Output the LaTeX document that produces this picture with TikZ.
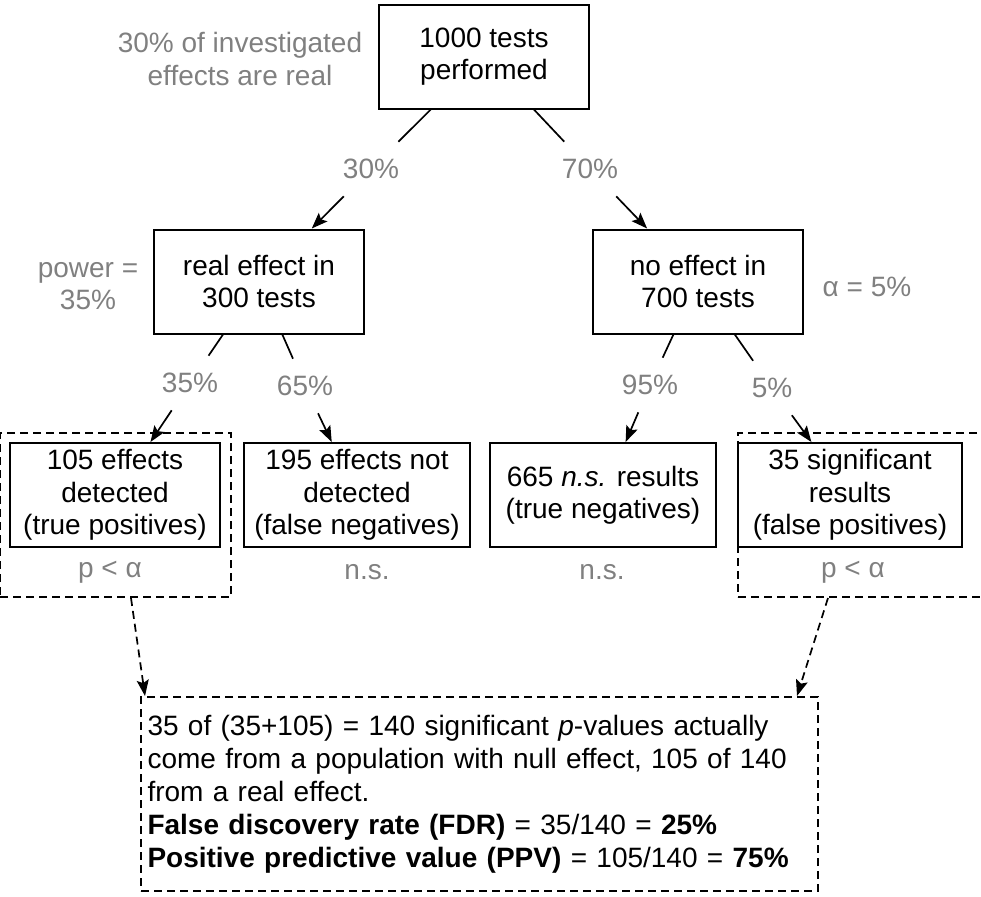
\documentclass[tikz,border=0pt]{standalone}
\usepackage{fontspec}
\setmainfont{Liberation Sans}
\usepackage{tikz}
\usetikzlibrary{arrows.meta}
\definecolor{notegray}{RGB}{128,128,128}

\begin{document}
\begin{tikzpicture}[x=0.5pt,y=-0.5pt,
		every node/.style={font=\fontsize{14}{16.2}\selectfont},
		box/.style={draw,line width=1pt,align=center,inner sep=0pt,minimum height=52pt},
		note/.style={text=notegray,align=center},
		pct/.style={text=notegray,inner sep=8.5pt},
		dashbox/.style={draw,line width=1pt,dash pattern=on 4pt off 2.5pt,inner sep=0pt},
		>={Stealth[length=8pt,width=6pt,inset=1.5pt]}]
	\useasboundingbox (0,0) rectangle (981,896);
	\node[dashbox,minimum width=115.5pt,minimum height=82pt] (sigL) at (115.5,515) {};
	\node[dashbox,minimum width=126pt,minimum height=82pt] (sigR) at (864,515) {};
	\node[box,minimum width=105pt] (top) at (484,56.5) {1000 tests\\performed};
	\node[box,minimum width=105pt] (real) at (259,281.5) {real effect in\\300 tests};
	\node[box,minimum width=105pt] (null) at (698,281.5) {no effect in\\700 tests};
	\node[box,minimum width=105pt] (tp) at (115,495) {105 effects\\detected\\(true positives)};
	\node[box,minimum width=113pt] (fn) at (357,495) {195 effects not\\detected\\(false negatives)};
	\node[box,minimum width=113pt] (tn) at (603,495) {665 \textit{n.s.} results\\(true negatives)};
	\node[box,minimum width=112pt] (fp) at (850,495) {35 significant\\results\\(false positives)};
	\node[note] (realnote) at (240,59) {30\% of investigated\\effects are real};
	\node[note] (power) at (88,286) {power =\\35\%};
	\node[note] (alpha) at (867,287) {α = 5\%};
	\node[note] (tpsig) at (110,572) {p < α};
	\node[note] (fnns) at (367,572) {n.s.};
	\node[note] (tnns) at (602,572) {n.s.};
	\node[note] (fpsig) at (853,572) {p < α};
	\node[pct] (l30) at (371,169) {30\%};
	\node[pct] (l70) at (590,169) {70\%};
	\node[pct] (l35) at (190,383) {35\%};
	\node[pct] (l65) at (305,386) {65\%};
	\node[pct] (l95) at (650,385) {95\%};
	\node[pct] (l5) at (772,388) {5\%};
	\node[dashbox,minimum width=338.5pt,minimum height=97pt,inner xsep=3.25pt,text width=332pt,align=left,font=\fontsize{14}{16.5}\selectfont] (sum) at (479.5,794)
		{35 of (35+105) = 140 significant \textit{p}-values actually\\come from a population with null effect, 105 of 140\\from a real effect.\\\textbf{False discovery rate (FDR)} = 35/140 = \textbf{25\%}\\\textbf{Positive predictive value (PPV)} = 105/140 = \textbf{75\%}};
	\draw[line width=0.85pt] (top) -- (l30);
	\draw[line width=0.85pt,->] (l30) -- (real);
	\draw[line width=0.85pt] (top) -- (l70);
	\draw[line width=0.85pt,->] (l70) -- (null);
	\draw[line width=0.85pt] (real) -- (l35);
	\draw[line width=0.85pt,->] (l35) -- (tp);
	\draw[line width=0.85pt] (real) -- (l65);
	\draw[line width=0.85pt,->] (l65) -- (fn);
	\draw[line width=0.85pt] (null) -- (l95);
	\draw[line width=0.85pt,->] (l95) -- (tn);
	\draw[line width=0.85pt] (null) -- (l5);
	\draw[line width=0.85pt,->] (l5) -- (fp);
	\draw[line width=0.85pt,dash pattern=on 4pt off 2.5pt,->] ([xshift=7.75pt]sigL.south) -- ([xshift=2.5pt]sum.north west);
	\draw[line width=0.85pt,dash pattern=on 4pt off 2.5pt,->] ([xshift=-18pt]sigR.south) -- ([xshift=-11pt]sum.north east);
\end{tikzpicture}
\end{document}
